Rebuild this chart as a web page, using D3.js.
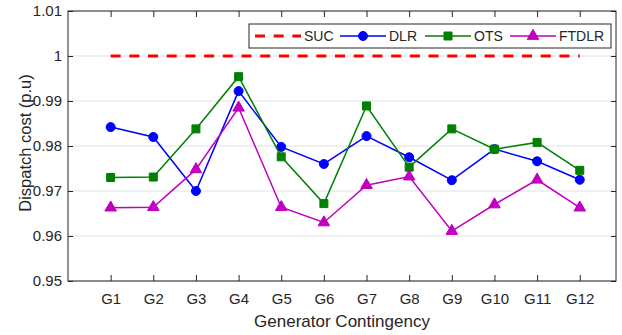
<!DOCTYPE html>
<html>
<head>
  <meta charset="utf-8">
  <title>Dispatch cost</title>
  <script src="https://d3js.org/d3.v7.min.js"></script>
  <style>
    body { margin: 0; padding: 0; background: white; }
    text { font-family: "Liberation Sans", Arial, sans-serif; fill: #262626; }
  </style>
</head>
<body>
  <div id="chart"></div>
  <script>
    // data
    var categories = ["G1","G2","G3","G4","G5","G6","G7","G8","G9","G10","G11","G12"];
    var suc   = [1, 1, 1, 1, 1, 1, 1, 1, 1, 1, 1, 1];
    var dlr   = [0.9842, 0.9820, 0.9700, 0.9922, 0.9798, 0.9760, 0.9822, 0.9775, 0.9724, 0.9793, 0.9766, 0.9725];
    var ots   = [0.9730, 0.9731, 0.9838, 0.9954, 0.9776, 0.9672, 0.9889, 0.9753, 0.9838, 0.9793, 0.9808, 0.9746];
    var ftdlr = [0.9663, 0.9664, 0.9748, 0.9885, 0.9664, 0.9630, 0.9713, 0.9732, 0.9611, 0.9670, 0.9725, 0.9663];
    var yTicks = [0.95, 0.96, 0.97, 0.98, 0.99, 1, 1.01];

    var W = 622, H = 335;
    var mLeft = 68, mRight = 616, mTop = 11, mBottom = 281;

    var svg = d3.select("#chart").append("svg")
        .attr("width", W).attr("height", H);

    var x = d3.scaleLinear().domain([0, 12.85]).range([mLeft, mRight]);
    var y = d3.scaleLinear().domain([0.95, 1.01]).range([mBottom, mTop]);

    // grid
    svg.append("g").selectAll("line").data(yTicks).enter().append("line")
        .attr("x1", mLeft).attr("x2", mRight)
        .attr("y1", function(d) { return y(d); })
        .attr("y2", function(d) { return y(d); })
        .attr("stroke", "#e1e1e1").attr("stroke-width", 1);

    var idx = d3.range(1, categories.length + 1);

    // axes (ticks inside)
    var fmt = function(d) { return String(+d.toFixed(2)); };
    var gx = svg.append("g").attr("transform", "translate(0," + mBottom + ")")
        .call(d3.axisBottom(x).tickValues(idx).tickSize(-6).tickPadding(12)
          .tickFormat(function(d) { return categories[d - 1]; }));
    var gxt = svg.append("g").attr("transform", "translate(0," + mTop + ")")
        .call(d3.axisTop(x).tickValues(idx).tickSize(-6).tickFormat(""));
    var gy = svg.append("g").attr("transform", "translate(" + mLeft + ",0)")
        .call(d3.axisLeft(y).tickValues(yTicks).tickSize(-5).tickPadding(6).tickFormat(fmt));
    var gyr = svg.append("g").attr("transform", "translate(" + mRight + ",0)")
        .call(d3.axisRight(y).tickValues(yTicks).tickSize(-5).tickFormat(""));

    [gx, gxt, gy, gyr].forEach(function(g) {
      g.select(".domain").remove();
      g.selectAll("line").attr("stroke", "#262626");
      g.selectAll("text").style("font-size", "15px").attr("fill", "#262626")
        .style("font-family", "'Liberation Sans', Arial, sans-serif");
    });

    // box
    svg.append("rect").attr("x", mLeft).attr("y", mTop)
        .attr("width", mRight - mLeft).attr("height", mBottom - mTop)
        .attr("fill", "none").attr("stroke", "#262626").attr("stroke-width", 1);

    // axis labels
    svg.append("text").attr("x", (mLeft + mRight) / 2).attr("y", 327)
        .attr("text-anchor", "middle").style("font-size", "17px")
        .text("Generator Contingency");
    svg.append("text").attr("transform", "rotate(-90)")
        .attr("x", -143).attr("y", 31)
        .attr("text-anchor", "middle").style("font-size", "16.5px")
        .text("Dispatch cost (p.u)");

    var line = d3.line()
        .x(function(d, i) { return x(i + 1); })
        .y(function(d) { return y(d); });

    var series = [
      { name: "SUC", data: suc, color: "#ff0000", marker: null },
      { name: "DLR", data: dlr, color: "#0000ff", marker: "circle" },
      { name: "OTS", data: ots, color: "#008000", marker: "square" },
      { name: "FTDLR", data: ftdlr, color: "#bf00bf", marker: "triangle" }
    ];

    var symbols = {
      circle: d3.symbol().type(d3.symbolCircle).size(64),
      square: d3.symbol().type(d3.symbolSquare).size(64),
      triangle: d3.symbol().type(d3.symbolTriangle).size(58)
    };

    series.forEach(function(s) {
      var p = svg.append("path").datum(s.data)
          .attr("d", line).attr("fill", "none").attr("stroke", s.color);
      if (s.marker === null) {
        p.attr("stroke-width", 3).attr("stroke-dasharray", "10,8.7");
      } else {
        p.attr("stroke-width", 1.5);
        svg.append("g").selectAll("path").data(s.data).enter().append("path")
          .attr("d", symbols[s.marker])
          .attr("transform", function(d, i) { return "translate(" + x(i + 1) + "," + y(d) + ")"; })
          .attr("fill", s.color).attr("stroke", s.color).attr("stroke-width", 1);
      }
    });

    // legend
    var lg = svg.append("g");
    lg.append("rect").attr("x", 249).attr("y", 24).attr("width", 362).attr("height", 24)
        .attr("fill", "white").attr("stroke", "#262626").attr("stroke-width", 1);
    var lx = [255, 340, 425, 510];
    series.forEach(function(s, i) {
      var x0 = lx[i], cy = 36;
      var l = lg.append("line").attr("x1", x0).attr("x2", x0 + 46)
          .attr("y1", cy).attr("y2", cy).attr("stroke", s.color);
      if (s.marker === null) {
        l.attr("stroke-width", 3).attr("stroke-dasharray", "10,8.7");
      } else {
        l.attr("stroke-width", 1.5);
        lg.append("path").attr("d", symbols[s.marker])
          .attr("transform", "translate(" + (x0 + 23) + "," + cy + ")")
          .attr("fill", s.color).attr("stroke", s.color);
      }
      lg.append("text").attr("x", x0 + 49).attr("y", cy + 5)
        .style("font-size", "14px").text(s.name);
    });
  </script>
</body>
</html>
